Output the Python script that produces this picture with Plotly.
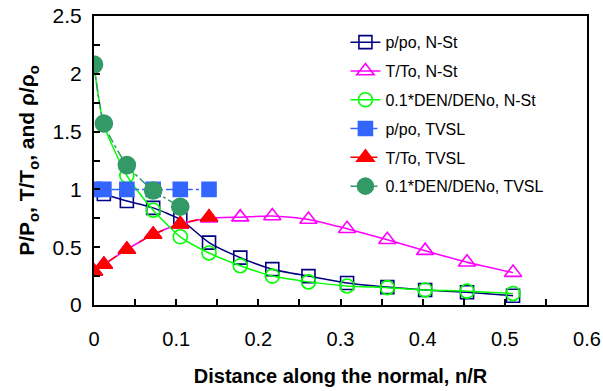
import plotly.graph_objects as go

# ---- data ----
x_nst = [0, 0.012, 0.04, 0.072, 0.105, 0.14, 0.178, 0.217, 0.261, 0.308, 0.357, 0.403, 0.454, 0.51]
p_nst = [1.0, 0.96, 0.90, 0.84, 0.74, 0.54, 0.41, 0.31, 0.25, 0.19, 0.155, 0.13, 0.11, 0.08]
t_nst = [0.29, 0.35, 0.48, 0.61, 0.70, 0.75, 0.76, 0.77, 0.74, 0.66, 0.565, 0.47, 0.37, 0.28]
d_nst = [2.07, 1.56, 1.12, 0.82, 0.59, 0.45, 0.34, 0.25, 0.20, 0.165, 0.15, 0.13, 0.12, 0.10]

x_tvsl = [0, 0.012, 0.04, 0.072, 0.105, 0.14]
p_tvsl = [1.0, 1.0, 1.0, 1.0, 1.0, 1.0]
t_tvsl = [0.29, 0.35, 0.48, 0.61, 0.70, 0.76]
x_tvsl_d = [0, 0.012, 0.04, 0.072, 0.105]
d_tvsl = [2.08, 1.57, 1.21, 0.99, 0.85]

names = ["p/po, N-St", "T/To, N-St", "0.1*DEN/DENo, N-St",
         "p/po, TVSL", "T/To, TVSL", "0.1*DEN/DENo, TVSL"]

FONT = "Liberation Sans, Arial, sans-serif"

fig = go.Figure()

def add(x, y, name, color, dash, symbol, size, fill=None, group=0):
    fig.add_trace(go.Scatter(
        x=x, y=y, name=name, mode="lines+markers",
        line=dict(color=color, width=1.5, dash=dash, shape="spline", smoothing=0.6),
        marker=dict(symbol=symbol, size=size,
                    color=fill if fill else color,
                    line=dict(color=color, width=1.6)),
        legendgroup=str(group),
    ))

add(x_nst, p_nst, names[0], "#000080", "solid", "square-open", 13, group=1)
add(x_nst, t_nst, names[1], "#FF00FF", "solid", "triangle-up-open", 15, group=2)
add(x_nst, d_nst, names[2], "#00FF00", "solid", "circle-open", 14, group=3)
add(x_tvsl, p_tvsl, names[3], "#3366FF", "dashdot", "square", 14, group=4)
add(x_tvsl, t_tvsl, names[4], "#FF0000", "dash", "triangle-up", 15, group=5)
add(x_tvsl_d, d_tvsl, names[5], "#339966", "dashdot", "circle", 17, group=6)

fig.update_layout(
    width=603, height=391,
    margin=dict(l=94, r=16, t=16, b=86),
    paper_bgcolor="white", plot_bgcolor="white",
    font=dict(family=FONT, color="black"),
    showlegend=True,
    legend=dict(x=0.51, y=0.968, xanchor="left", yanchor="top",
                bgcolor="rgba(0,0,0,0)", font=dict(size=16, family=FONT),
                traceorder="grouped", tracegroupgap=5),
    xaxis=dict(range=[0, 0.6], dtick=0.1, tick0=0, automargin=False,
               showline=True, linecolor="black", linewidth=2, mirror=True,
               ticks="inside", ticklen=6, tickwidth=1.5, tickcolor="black",
               minor=dict(dtick=0.05, ticks="inside", ticklen=6, tickwidth=1.5, tickcolor="black"),
               showgrid=False, zeroline=False,
               tickfont=dict(size=20, family=FONT),
               ticklabelstandoff=15,
               tickformat="~g",
               title=dict(text="<b>Distance along the normal, n/R</b>",
                          font=dict(size=20, family=FONT), standoff=20)),
    yaxis=dict(range=[0, 2.5], dtick=0.5, tick0=0, automargin=False,
               showline=True, linecolor="black", linewidth=2, mirror=True,
               ticks="inside", ticklen=6, tickwidth=1.5, tickcolor="black",
               minor=dict(dtick=0.25, ticks="inside", ticklen=6, tickwidth=1.5, tickcolor="black"),
               showgrid=False, zeroline=False,
               tickfont=dict(size=21, family=FONT),
               ticklabelstandoff=6,
               tickformat="~g",
               title=dict(text="<b>P/P<sub>o</sub>, T/T<sub>o</sub>, and ρ/ρ<sub>o</sub></b>",
                          font=dict(size=21, family=FONT), standoff=12)),
)

fig.write_html("out.html")
